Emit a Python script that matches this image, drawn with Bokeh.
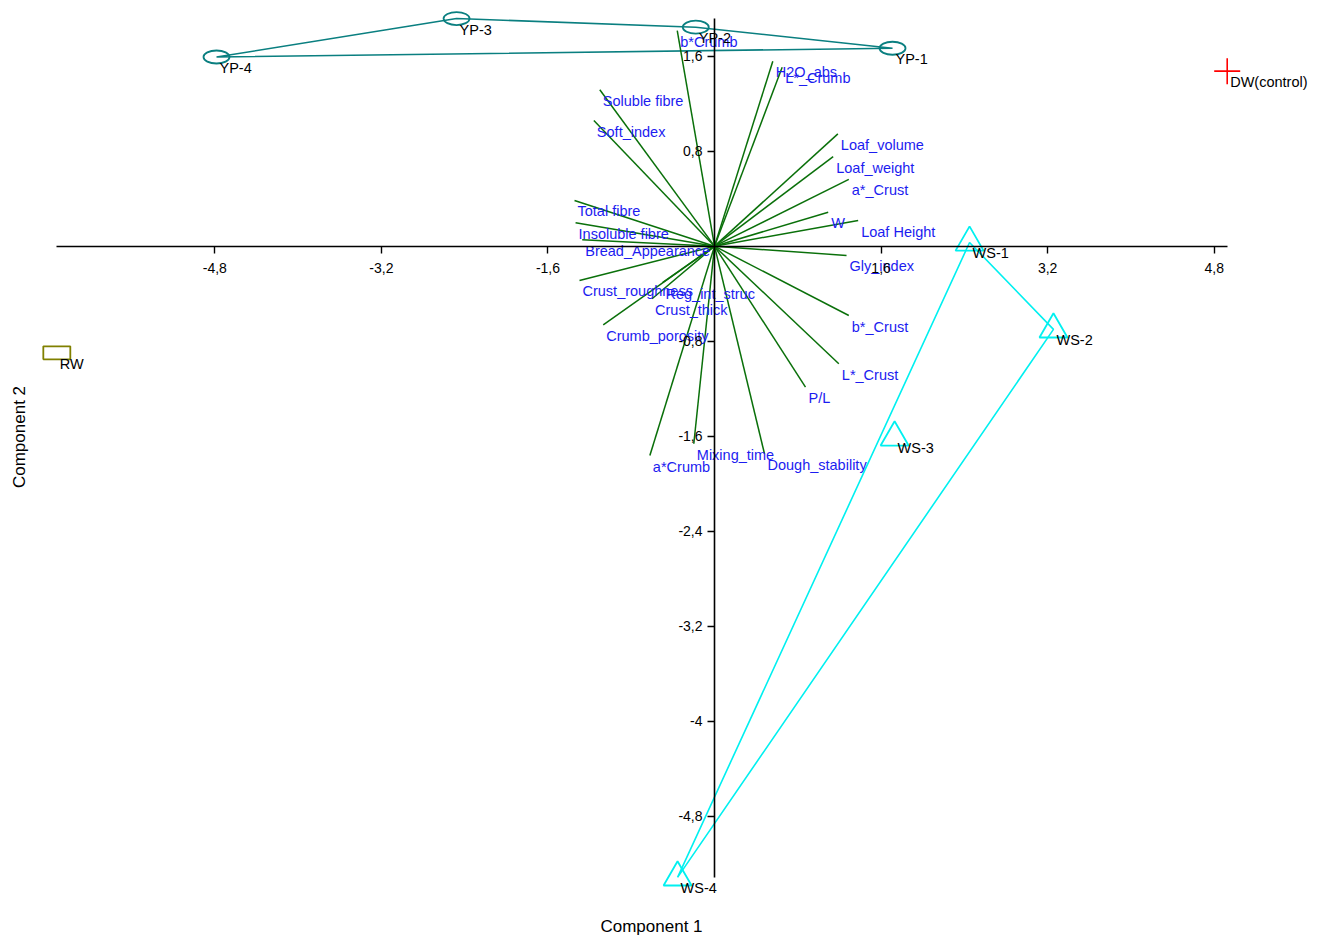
import math
from bokeh.plotting import figure
from bokeh.models import Range1d, FixedTicker, CustomJSTickFormatter, Label, ColumnDataSource
from bokeh.core.properties import value
from bokeh.embed import file_html
from bokeh.resources import INLINE

# ---------------- data ----------------
sample_names = ["DW(control)", "RW", "YP-1", "YP-2", "YP-3", "YP-4", "WS-1", "WS-2", "WS-3", "WS-4"]
sample_group = ["DW", "RW", "YP", "YP", "YP", "YP", "WS", "WS", "WS", "WS"]
pc1 = [4.925, -6.318, 1.71, -0.18, -2.478, -4.784, 2.45, 3.256, 1.73, -0.355]
pc2 = [1.474, -0.898, 1.667, 1.844, 1.917, 1.593, 0.031, -0.701, -1.611, -5.316]

var_names = ["b*Crumb", "H2O_abs", "L*_Crumb", "Soluble fibre", "Soft_index", "Loaf_volume",
             "Loaf_weight", "a*_Crust", "W", "Loaf Height", "Total fibre", "Insoluble fibre",
             "Bread_Appearance", "Gly_index", "Crust_roughness", "Reg_int_struc", "Crust_thick",
             "Crumb_porosity", "a*Crumb", "Mixing_time", "Dough_stability", "P/L", "L*_Crust", "b*_Crust"]
load1 = [-0.358, 0.56, 0.65, -1.102, -1.159, 1.185, 1.14, 1.29, 1.092, 1.38, -1.345, -1.335,
         -1.271, 1.268, -1.297, -0.5, -0.6, -1.069, -0.621, -0.199, 0.48, 0.874, 1.194, 1.29]
load2 = [1.816, 1.558, 1.507, 1.317, 1.058, 0.946, 0.755, 0.562, 0.286, 0.216, 0.385, 0.197,
         0.054, -0.078, -0.289, -0.306, -0.443, -0.662, -1.763, -1.664, -1.748, -1.187, -0.99, -0.584]

x_ticks = [-4.8, -3.2, -1.6, 1.6, 3.2, 4.8]
y_ticks = [1.6, 0.8, -0.8, -1.6, -2.4, -3.2, -4.0, -4.8]

x_title = "Component 1"
y_title = "Component 2"

# ---------------- styles ----------------
FONT = "Liberation Sans"
group_style = {
    "DW": dict(color="#ff0000", marker="cross"),
    "RW": dict(color="#808000", marker="rect"),
    "YP": dict(color="#0a7f80", marker="ellipse"),
    "WS": dict(color="#00f0f0", marker="triangle"),
}
VEC_COLOR = "#0a700a"
VEC_TEXT = "#1c1cf0"

W, H = 1318, 937
x_range = Range1d(-6.859, 5.802)
y_range = Range1d(-5.822, 2.069)

p = figure(width=W, height=H, x_range=x_range, y_range=y_range,
           output_backend="svg", toolbar_location=None, min_border=0)
p.min_border_left = p.min_border_right = p.min_border_top = p.min_border_bottom = 0
p.outline_line_color = None
p.grid.visible = False
p.background_fill_color = "white"
p.border_fill_color = "white"

fmt = CustomJSTickFormatter(code="return (Math.round(tick*10)/10).toString().replace('.', ',');")
for ax, ticks, vals, standoff in ((p.xaxis[0], x_ticks, pc1, 10), (p.yaxis[0], y_ticks, pc2, 5)):
    ax.fixed_location = 0
    ax.ticker = FixedTicker(ticks=ticks)
    ax.formatter = fmt
    ax.bounds = (min(vals), max(vals))
    ax.axis_line_color = "black"
    ax.axis_line_width = 1.6
    ax.major_tick_line_color = "black"
    ax.major_tick_line_width = 1.4
    ax.major_tick_out = 7
    ax.major_tick_in = 0
    ax.minor_tick_line_color = None
    ax.major_label_text_font = FONT
    ax.major_label_text_font_size = "14px"
    ax.major_label_text_color = "black"
    ax.major_label_standoff = standoff

# ---------------- convex hulls ----------------
def convex_hull(pts):
    pts = sorted(set(pts))
    if len(pts) <= 2:
        return pts
    def cross(o, a, b):
        return (a[0]-o[0])*(b[1]-o[1]) - (a[1]-o[1])*(b[0]-o[0])
    lower, upper = [], []
    for q in pts:
        while len(lower) >= 2 and cross(lower[-2], lower[-1], q) <= 0:
            lower.pop()
        lower.append(q)
    for q in reversed(pts):
        while len(upper) >= 2 and cross(upper[-2], upper[-1], q) <= 0:
            upper.pop()
        upper.append(q)
    return lower[:-1] + upper[:-1]

for g in ["YP", "WS"]:
    pts = [(pc1[i], pc2[i]) for i in range(len(pc1)) if sample_group[i] == g]
    hull = convex_hull(pts)
    hx = [h[0] for h in hull] + [hull[0][0]]
    hy = [h[1] for h in hull] + [hull[0][1]]
    p.line(hx, hy, line_color=group_style[g]["color"], line_width=1.6)

# ---------------- loading vectors ----------------
vsrc = ColumnDataSource(dict(x0=[0]*len(load1), y0=[0]*len(load2), x1=load1, y1=load2, name=var_names))
p.segment(x0="x0", y0="y0", x1="x1", y1="y1", source=vsrc, line_color=VEC_COLOR, line_width=1.5)
p.text(x="x1", y="y1", text="name", source=vsrc, x_offset=3, y_offset=11,
       text_baseline="middle", text_align="left", text_font=value(FONT),
       text_font_size="14.5px", text_color=VEC_TEXT)

# ---------------- sample markers ----------------
for g, st in group_style.items():
    idx = [i for i in range(len(pc1)) if sample_group[i] == g]
    xs = [pc1[i] for i in idx]
    ys = [pc2[i] for i in idx]
    if st["marker"] == "ellipse":
        p.ellipse(xs, ys, width=26, height=13, width_units="screen", height_units="screen",
                  fill_color=None, line_color=st["color"], line_width=1.8)
    elif st["marker"] == "rect":
        p.rect(xs, ys, width=27, height=13, width_units="screen", height_units="screen",
               fill_color=None, line_color=st["color"], line_width=1.8)
    elif st["marker"] == "triangle":
        p.scatter(xs, ys, marker="triangle", size=28, fill_color=None,
                  line_color=st["color"], line_width=1.8)
    else:
        p.scatter(xs, ys, marker="cross", size=26, line_color=st["color"], line_width=1.6)

ssrc = ColumnDataSource(dict(x=pc1, y=pc2, name=sample_names))
p.text(x="x", y="y", text="name", source=ssrc, x_offset=3, y_offset=11,
       text_baseline="middle", text_align="left", text_font=value(FONT),
       text_font_size="14.5px", text_color="black")

# ---------------- axis titles ----------------
xs_per_px = (x_range.end - x_range.start) / W
ys_per_px = (y_range.end - y_range.start) / H
p.add_layout(Label(x=x_range.start + 651 * xs_per_px, y=y_range.end - 926 * ys_per_px,
                   text=x_title, text_align="center", text_baseline="middle",
                   text_font=FONT, text_font_size="17px", text_color="black"))
p.add_layout(Label(x=x_range.start + 18.5 * xs_per_px, y=y_range.end - 436.5 * ys_per_px,
                   text=y_title, angle=math.pi / 2, text_align="center", text_baseline="middle",
                   text_font=FONT, text_font_size="17px", text_color="black"))

open("out.html", "w").write(file_html(p, INLINE))
